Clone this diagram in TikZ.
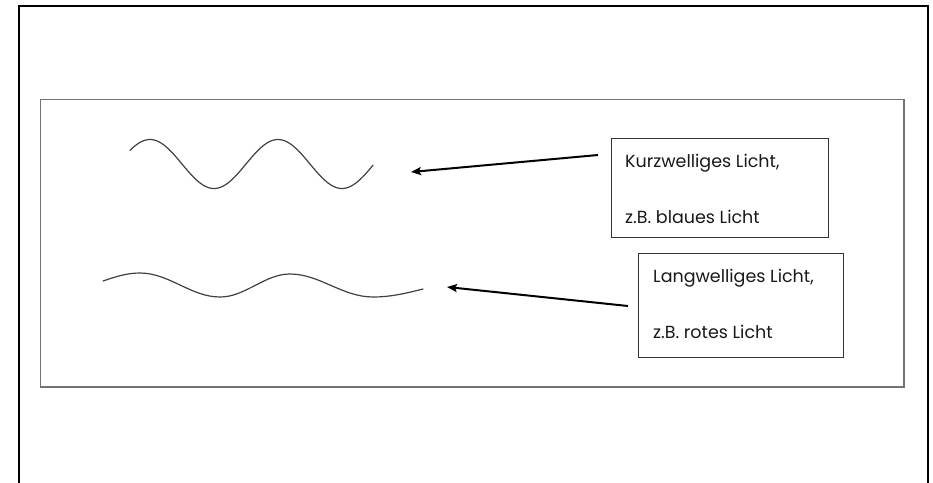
\documentclass[tikz,border=0pt]{standalone}
\usepackage{fontspec}
\setmainfont{Poppins}
\usetikzlibrary{arrows.meta}
\tikzset{
  frame/.style={draw=black,line width=2pt},
  panel/.style={draw=black!55,line width=1.2pt},
  wave/.style={draw=black!75,line width=1.2pt,line cap=round},
  labelbox/.style={draw=black!80,line width=1pt,rectangle,inner sep=0pt},
  labeltext/.style={anchor=base west,inner sep=0pt,font=\fontsize{17.5}{20}\selectfont,text=black!90},
  pointer/.style={draw=black,line width=2pt,-{Stealth[length=10pt,width=8pt,inset=2pt]}},
}
\begin{document}
\begin{tikzpicture}[x=1pt,y=-1pt]
\useasboundingbox (0,0) rectangle (933,482);
\draw[frame] (18.5,483) -- (18.5,5.5) -- (928,5.5) -- (928,483);
\draw[panel] (40.5,99.5) rectangle (904,387);
% short wave
\draw[wave] plot[domain=130:373,samples=120,smooth] (\x,{164-24.5*cos((\x-150)*2.8125)});
% long wave
\draw[wave] (103,281) sin (140,273) cos (180,285) sin (220,297) cos (255,285.5)
  sin (290,274) cos (331,285.5) sin (373,297) cos (423,289);
% boxes
\node[labelbox,minimum width=217pt,minimum height=99pt] (b1) at (719.5,187.5) {};
\node[labelbox,minimum width=205pt,minimum height=104pt] (b2) at (740.5,305) {};
\node[labeltext] (t1a) at (625,167) {Kurzwelliges Licht,};
\node[labeltext] (t1b) at (625,223) {z.B. blaues Licht};
\node[labeltext] (t2a) at (653,282) {Langwelliges Licht,};
\node[labeltext] (t2b) at (653,338) {z.B. rotes Licht};
% arrows
\coordinate (a1s) at (598,155);
\coordinate (a1e) at (411,172);
\coordinate (a2s) at (628,306);
\coordinate (a2e) at (447,287);
\draw[pointer] (a1s) -- (a1e);
\draw[pointer] (a2s) -- (a2e);
\end{tikzpicture}
\end{document}
